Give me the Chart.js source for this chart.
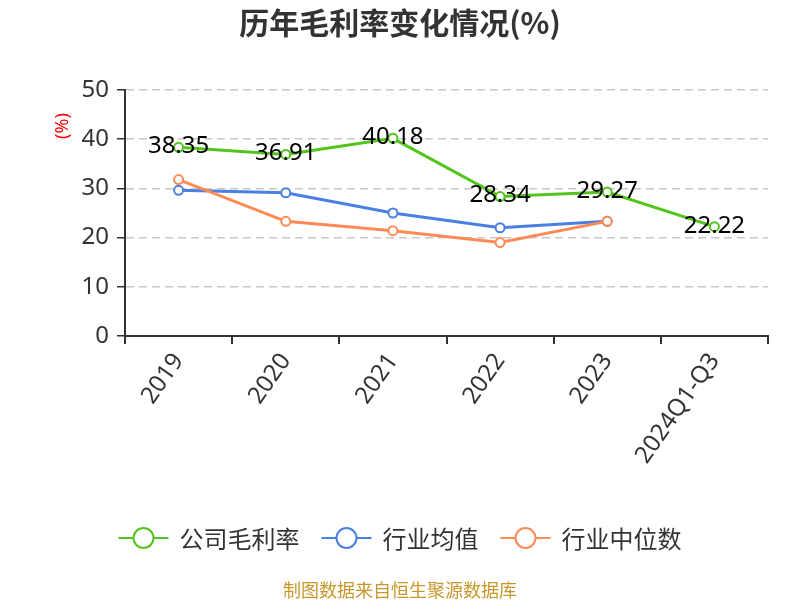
<!DOCTYPE html>
<html>
<head>
<meta charset="utf-8">
<script src="https://cdn.jsdelivr.net/npm/chart.js@4/dist/chart.umd.min.js"></script>
<style>
  html, body { margin: 0; padding: 0; background: #fff; }
  #wrap { width: 800px; height: 600px; }
</style>
</head>
<body>
<div id="wrap"><canvas id="margin"></canvas></div>
<script>
const years = ["2019", "2020", "2021", "2022", "2023", "2024Q1-Q3"];
const companyMargin = [38.35, 36.91, 40.18, 28.34, 29.27, 22.22];
const industryAvg = [29.6, 29.1, 25.0, 22.0, 23.3, null];
const industryMedian = [31.8, 23.3, 21.4, 19.0, 23.3, null];
const yTicks = [0, 10, 20, 30, 40, 50];

const fontFamily = "'Noto Sans', 'Noto Sans CJK SC', sans-serif";
const cjkFont = "'Noto Sans CJK SC', 'Noto Sans', sans-serif";

var colors = {
  company: "#52C41A",
  avg: "#4A80E4",
  median: "#FF8A55",
};

function series(label, data, color, order) {
  return {
    label: label,
    data: data,
    borderColor: color,
    backgroundColor: "#fff",
    pointBackgroundColor: "#fff",
    pointBorderColor: color,
    pointBorderWidth: 2,
    pointRadius: 4.5,
    borderWidth: 3,
    tension: 0,
    spanGaps: false,
    order: order,
  };
}

// title, axis unit, value labels, legend and source line
const extras = {
  id: "extras",
  afterDraw(chart) {
    const ctx = chart.ctx;
    ctx.save();

    ctx.fillStyle = "#333";
    ctx.font = "bold 30px " + cjkFont;
    ctx.textAlign = "center";
    ctx.textBaseline = "middle";
    ctx.fillText("历年毛利率变化情况(%)", 400, 23);

    ctx.save();
    ctx.translate(63, 126);
    ctx.rotate(-Math.PI / 2);
    ctx.fillStyle = "#f00";
    ctx.font = "18px " + fontFamily;
    ctx.fillText("(%)", 0, 0);
    ctx.restore();

    // legend
    const items = chart.data.datasets.map((d) => [d.label, d.borderColor]);
    ctx.font = "24px " + cjkFont;
    const gap = 22;
    const sym = 50;
    const symGap = 11;
    let total = 0;
    items.forEach(([t]) => (total += sym + symGap + ctx.measureText(t).width));
    total += gap * (items.length - 1);
    let x = 400 - total / 2;
    const ly = 538;
    items.forEach(([t, c]) => {
      ctx.strokeStyle = c;
      ctx.lineWidth = 2;
      ctx.beginPath();
      ctx.moveTo(x, ly);
      ctx.lineTo(x + sym, ly);
      ctx.stroke();
      ctx.beginPath();
      ctx.arc(x + sym / 2, ly, 10, 0, Math.PI * 2);
      ctx.fillStyle = "#fff";
      ctx.fill();
      ctx.stroke();
      ctx.fillStyle = "#333";
      ctx.textAlign = "left";
      ctx.fillText(t, x + sym + symGap, ly + 1);
      x += sym + symGap + ctx.measureText(t).width + gap;
    });

    ctx.fillStyle = "#C9962C";
    ctx.font = "18px " + cjkFont;
    ctx.textAlign = "center";
    ctx.fillText("制图数据来自恒生聚源数据库", 400, 590);
    ctx.restore();
  },
  afterDatasetsDraw(chart) {
    const ctx = chart.ctx;
    const meta = chart.getDatasetMeta(0);
    ctx.save();
    ctx.fillStyle = "#000";
    ctx.font = "24px " + fontFamily;
    ctx.textAlign = "center";
    ctx.textBaseline = "middle";
    meta.data.forEach((pt, i) => {
      ctx.fillText(companyMargin[i].toFixed(2), pt.x, pt.y - 1);
    });
    ctx.restore();
  },
};

new Chart(document.getElementById("margin"), {
  type: "line",
  data: {
    labels: years,
    datasets: [
      series("公司毛利率", companyMargin, colors.company, 0),
      series("行业均值", industryAvg, colors.avg, 2),
      series("行业中位数", industryMedian, colors.median, 1),
    ],
  },
  options: {
    responsive: true,
    maintainAspectRatio: false,
    animation: false,
    layout: {
      padding: { top: 90, right: 32, left: 0, bottom: 0 },
    },
    scales: {
      x: {
        offset: true,
        afterFit: function (scale) {
          scale.height = 264;
        },
        grid: {
          offset: true,
          drawOnChartArea: false,
          drawTicks: true,
          tickLength: 8,
          color: "#333",
          lineWidth: 2,
        },
        border: { color: "#333", width: 2 },
        ticks: {
          autoSkip: false,
          minRotation: 55,
          maxRotation: 55,
          padding: 4,
          color: "#333",
          font: { size: 24, family: fontFamily },
        },
      },
      y: {
        min: 0,
        max: 50,
        afterFit: function (scale) {
          scale.width = 125;
        },
        afterBuildTicks: function (scale) {
          scale.ticks = yTicks.map((v) => ({ value: v }));
        },
        grid: {
          color: (c) => (c.tick && c.tick.value === 0 ? "rgba(0,0,0,0)" : "#c8c8c8"),
          tickColor: "#333",
          tickLength: 8,
          lineWidth: 1.5,
        },
        border: { color: "#333", width: 2, dash: [8, 5] },
        ticks: {
          padding: 8,
          color: "#333",
          font: { size: 24, family: fontFamily },
        },
      },
    },
    plugins: {
      legend: { display: false },
      title: { display: false },
      tooltip: { enabled: false },
    },
  },
  plugins: [extras],
});
</script>
</body>
</html>
